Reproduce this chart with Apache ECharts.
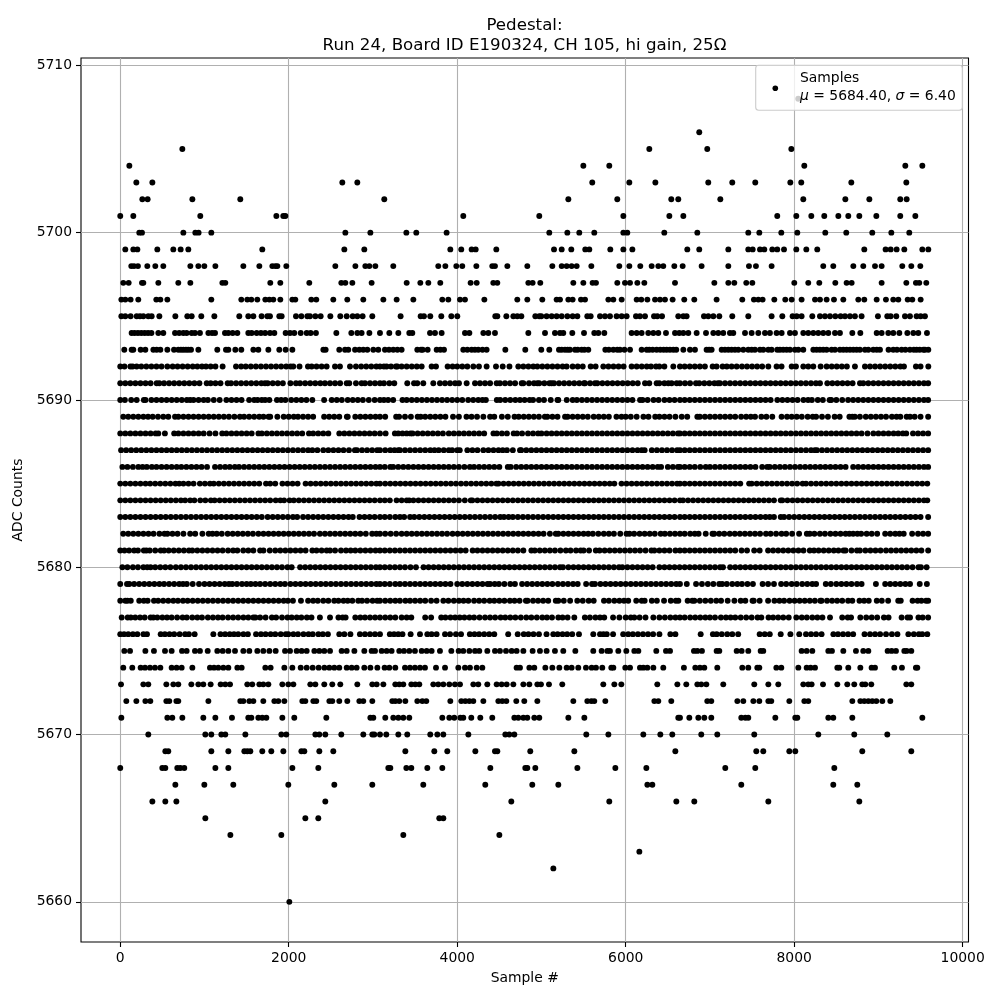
<!DOCTYPE html>
<html>
<head>
<meta charset="utf-8">
<script src="https://cdn.jsdelivr.net/npm/echarts@6/dist/echarts.min.js"></script>
<style>
  html, body { margin: 0; padding: 0; background: #fff; }
  #chart { width: 1000px; height: 1000px; }
</style>
</head>
<body>
<div id="chart"></div>
<script>
// sample numbers, one list per ADC level
const y5660 = [2007]
const y5662 = [5141]
const y5663 = [6162]
const y5664 = [1307,1912,3360,4500]
const y5665 = [1010,2197,2351,3787,3835]
const y5666 = [381,535,666,2434,4642,5805,6601,6814,7693,8773]
const y5667 = [654,998,1342,1995,2541,2992,3597,4333,4891,5200,6257,6316,7372,8464,8749]
const y5668 = [0,499,535,677,713,760,1129,1283,2043,2351,3182,3206,3396,3455,3645,3823,4393,4808,4832,4927,5426,5877,6245,7182,7538,8476]
const y5669 = [535,570,1081,1283,1473,1508,1544,1686,1793,1936,2150,2185,2363,2529,3384,3728,3882,4215,4448,4476,4867,5390,6589,7550,7633,7942,8013,8808,9390]
const y5670 = [333,1010,1081,1200,1247,1485,1912,1971,2316,2363,2434,2624,2885,2992,3016,3083,3158,3301,3407,3680,3764,3835,4132,4571,4618,4678,5532,5794,6209,6411,6553,6897,7087,7526,8286,8713,9105]
const y5671 = [13,559,618,737,986,1129,1326,1520,1556,1639,1686,1734,1924,2066,2446,2969,3004,3146,3241,3301,3360,3431,3823,3906,3965,4037,4072,4167,4274,4416,4678,4725,4785,4832,4915,4974,5319,5509,6624,6644,6755,6862,6933,7016,7372,7420,7455,7776,8013,8037,8405,8464,8690,9521]
const y5672 = [72,191,298,357,547,582,666,689,1046,1425,1461,1532,1580,1698,1829,1876,1948,2161,2197,2292,2327,2482,2517,2600,2695,2838,2885,2992,3229,3265,3312,3384,3526,3586,3633,3918,4048,4096,4144,4191,4310,4488,4535,4583,4701,4796,4951,5378,5544,5592,5627,5758,6340,6387,6541,6968,7016,7325,7396,7515,7586,7693,7728,7942,8120,8167,8690,8785,8832,8880,8927,8975,9046,9141]
const y5673 = [9,274,333,547,630,689,844,927,986,1073,1192,1247,1303,1508,1567,1651,1698,1758,1924,1995,2055,2256,2316,2422,2517,2612,2814,2992,3044,3123,3265,3312,3360,3455,3502,3550,3716,3775,3835,3906,3973,4033,4191,4250,4357,4468,4527,4587,4666,4785,4856,4951,4994,5089,5247,5734,5865,5948,6375,6613,6719,6850,6897,6957,7158,7526,7693,7811,8108,8167,8207,8342,8512,8630,8713,8808,8844,8915,9331,9390]
const y5674 = [36,143,242,294,353,412,476,610,669,729,856,1065,1113,1164,1224,1283,1390,1441,1722,1785,1948,2043,2142,2213,2284,2355,2423,2482,2541,2600,2688,2747,2806,2897,2969,3052,3138,3194,3265,3380,3439,3498,3558,3617,3748,3855,4013,4092,4151,4231,4298,4705,4745,4856,4915,5046,5129,5212,5299,5358,5437,5528,5596,5647,5722,5829,5853,5995,6051,6169,6209,6257,6328,6446,6691,6826,6881,6933,7087,7384,7455,7562,7586,7788,7847,8049,8148,8195,8247,8512,8535,8642,8785,8919,8959,9188,9279,9445,9461]
const y5675 = [48,116,298,400,531,610,733,788,887,946,1038,1152,1216,1283,1362,1461,1532,1627,1698,1770,1845,1956,2015,2094,2153,2213,2304,2363,2422,2490,2628,2688,2779,2897,2984,3024,3103,3162,3221,3312,3368,3431,3498,3578,3637,3696,3795,3930,4017,4072,4144,4211,4262,4357,4448,4507,4579,4646,4705,4785,4895,4982,5061,5160,5259,5402,5615,5714,5782,5813,5912,6007,6102,6150,6363,6478,6526,6810,6850,6905,7079,7111,7317,7376,7455,7602,7633,8088,8148,8215,8405,8448,8583,8733,8820,8880,9109,9157,9208,9307,9335,9390]
const y5676 = [0,45,95,150,203,275,317,480,530,585,640,705,770,815,883,1105,1190,1245,1300,1350,1400,1462,1515,1612,1670,1725,1785,1840,1905,1965,1995,2055,2110,2175,2235,2285,2352,2405,2465,2600,2660,2732,2845,2905,2965,3024,3083,3200,3250,3300,3350,3447,3558,3645,3696,3755,3855,3915,3985,4045,4150,4205,4260,4320,4380,4440,4605,4718,4790,4845,4905,4970,5060,5140,5192,5250,5305,5365,5445,5615,5695,5735,5775,5850,5970,6030,6085,6145,6205,6265,6325,6400,6530,6590,6890,7035,7080,7140,7205,7265,7335,7590,7650,7710,7840,7955,8060,8140,8200,8260,8325,8465,8520,8580,8640,8700,8835,8900,8960,9020,9090,9160,9225,9355,9420,9480,9520,9580]
const y5677 = [17,88,125,178,235,290,360,393,440,500,555,610,675,740,790,855,915,970,1040,1100,1160,1215,1280,1340,1400,1462,1520,1580,1605,1660,1725,1800,1850,1920,1985,2035,2095,2150,2215,2270,2370,2490,2590,2640,2675,2790,2850,2905,2965,3025,3083,3145,3205,3265,3340,3400,3455,3620,3690,3810,3860,3920,3975,4030,4085,4145,4200,4265,4330,4390,4450,4515,4570,4630,4690,4755,4820,4880,4945,5010,5065,5125,5200,5250,5310,5390,5515,5575,5640,5695,5745,5850,5925,6000,6060,6102,6165,6235,6328,6400,6465,6530,6590,6644,6700,6765,6825,6885,6945,7000,7060,7130,7190,7245,7300,7365,7430,7495,7565,7610,7695,7750,7810,7870,7935,8025,8090,8150,8215,8275,8335,8425,8570,8635,8675,8785,8855,8920,8985,9065,9120,9275,9345,9375,9475,9525,9590]
const y5678 = [0,60,85,125,225,280,325,400,450,510,570,630,685,745,800,860,920,980,1040,1100,1160,1220,1280,1340,1400,1460,1520,1580,1640,1700,1760,1820,1880,1940,1990,2050,2145,2230,2290,2345,2410,2470,2540,2590,2650,2700,2755,2825,2870,2930,2995,3050,3083,3145,3205,3265,3320,3385,3440,3500,3560,3620,3690,3755,3835,3895,3960,4020,4075,4132,4200,4260,4320,4385,4440,4500,4560,4625,4680,4740,4815,4835,4900,4960,5020,5080,5170,5200,5265,5340,5425,5490,5560,5620,5742,5800,5865,5925,5980,6030,6125,6190,6225,6310,6370,6455,6535,6595,6625,6735,6790,6815,6880,6945,7010,7075,7132,7210,7290,7365,7420,7505,7520,7590,7690,7765,7825,7880,7945,8005,8065,8125,8185,8245,8310,8325,8390,8450,8510,8570,8640,8690,8775,8830,8885,8980,9040,9115,9235,9265,9405,9465,9510,9565,9590]
const y5679 = [0,80,108,165,225,285,345,405,465,520,580,640,700,745,790,860,935,1000,1060,1120,1180,1240,1290,1330,1385,1445,1500,1550,1605,1660,1720,1780,1840,1900,1955,2020,2080,2140,2200,2260,2320,2380,2440,2500,2560,2620,2680,2740,2800,2860,2920,2980,3040,3083,3140,3200,3265,3320,3380,3440,3500,3560,3620,3680,3740,3800,3860,3920,4000,4060,4120,4180,4240,4300,4360,4390,4445,4495,4560,4630,4685,4770,4830,4890,4950,5010,5070,5130,5195,5255,5315,5375,5430,5530,5600,5635,5700,5760,5820,5880,5940,6000,6060,6120,6180,6240,6300,6360,6420,6480,6540,6600,6644,6725,6835,6905,6975,7040,7110,7145,7200,7265,7325,7380,7445,7510,7625,7690,7760,7845,7905,7970,8030,8095,8155,8215,8260,8375,8435,8500,8560,8620,8680,8745,8800,8970,9080,9140,9200,9260,9320,9375,9490,9575]
const y5680 = [25,85,150,210,275,320,360,415,475,535,595,660,720,780,840,900,960,1020,1080,1140,1200,1260,1320,1380,1440,1500,1560,1620,1680,1740,1800,1860,1920,1985,2035,2135,2195,2255,2315,2375,2435,2495,2555,2615,2675,2735,2795,2855,2915,2975,3035,3083,3140,3200,3260,3320,3380,3445,3510,3600,3660,3720,3780,3840,3900,3960,4020,4080,4140,4200,4260,4320,4380,4440,4500,4560,4620,4680,4740,4800,4860,4920,4980,5040,5100,5160,5220,5255,5320,5380,5440,5500,5560,5620,5680,5740,5800,5860,5920,5960,6020,6080,6140,6200,6260,6320,6400,6460,6520,6580,6640,6700,6760,6820,6880,6940,7000,7060,7120,7155,7240,7300,7360,7420,7480,7540,7600,7660,7720,7780,7840,7900,7960,8020,8080,8140,8200,8260,8320,8380,8440,8500,8560,8620,8680,8740,8800,8860,8920,8980,9040,9100,9160,9220,9280,9340,9405,9475,9505,9572]
const y5681 = [0,50,105,165,210,280,310,350,415,480,520,575,635,695,755,815,855,915,975,1035,1095,1155,1215,1280,1340,1390,1460,1520,1580,1660,1700,1775,1840,1900,1960,2020,2080,2140,2200,2280,2330,2390,2450,2490,2550,2620,2680,2735,2790,2850,2910,2970,3030,3083,3140,3200,3260,3320,3380,3440,3500,3560,3620,3680,3740,3800,3860,3920,3980,4040,4100,4183,4240,4300,4360,4420,4480,4540,4600,4660,4720,4785,4880,4920,4980,5040,5100,5160,5225,5290,5345,5410,5465,5500,5565,5645,5690,5750,5810,5870,5930,5990,6050,6110,6170,6235,6305,6340,6400,6460,6520,6590,6644,6700,6760,6820,6880,6940,7000,7060,7120,7180,7240,7300,7375,7440,7525,7590,7690,7750,7810,7870,7930,7990,8050,8110,8185,8235,8290,8350,8410,8470,8525,8585,8610,8680,8745,8780,8845,8905,8965,9025,9090,9150,9210,9270,9330,9390,9450,9510,9590]
const y5682 = [35,95,155,215,275,335,395,465,525,560,620,680,750,830,890,975,1050,1095,1145,1205,1275,1335,1395,1455,1515,1575,1640,1700,1760,1820,1880,1940,2000,2060,2120,2180,2240,2300,2370,2430,2490,2550,2610,2670,2730,2790,2850,2915,2990,3040,3083,3145,3210,3275,3340,3400,3460,3520,3580,3640,3700,3760,3820,3880,3945,4005,4065,4125,4185,4245,4305,4365,4425,4485,4545,4605,4665,4725,4785,4845,4905,4965,5025,5100,5170,5200,5260,5320,5380,5440,5500,5555,5610,5675,5740,5800,5860,5935,6010,6045,6100,6165,6225,6285,6345,6415,6465,6525,6585,6644,6700,6765,6820,6865,6950,7030,7050,7110,7170,7235,7295,7355,7415,7475,7535,7595,7665,7720,7785,7850,7905,7975,8058,8150,8185,8240,8305,8365,8430,8490,8550,8610,8655,8700,8750,8795,8860,8920,8985,9080,9140,9200,9250,9300,9400,9470,9530,9590]
const y5683 = [0,60,120,180,240,300,360,420,480,540,600,660,720,780,840,900,960,1020,1080,1140,1200,1260,1320,1380,1440,1500,1560,1620,1680,1750,1810,1870,1930,1990,2050,2100,2170,2230,2290,2350,2410,2470,2530,2590,2650,2710,2760,2840,2900,2960,3020,3083,3140,3200,3265,3320,3370,3440,3490,3550,3610,3670,3730,3790,3850,3910,3970,4030,4090,4150,4210,4270,4330,4390,4450,4510,4555,4610,4660,4720,4780,4840,4900,4960,5020,5080,5140,5200,5260,5320,5380,5440,5500,5560,5620,5680,5740,5800,5860,5920,5980,6040,6100,6160,6220,6280,6340,6400,6460,6520,6580,6644,6700,6760,6820,6880,6940,7000,7060,7120,7180,7240,7300,7360,7420,7480,7540,7600,7660,7710,7760,7840,7880,7940,8000,8060,8120,8180,8240,8300,8360,8420,8480,8540,8600,8660,8720,8780,8840,8900,8960,9020,9080,9140,9200,9260,9320,9380,9440,9500,9590]
const y5684 = [0,60,120,180,240,300,360,420,480,540,600,660,720,770,830,880,950,1010,1075,1120,1180,1240,1300,1360,1420,1480,1540,1600,1660,1720,1780,1845,1900,1945,2010,2060,2120,2180,2240,2300,2360,2420,2480,2540,2600,2660,2720,2780,2840,2900,2960,3020,3083,3140,3200,3280,3340,3400,3430,3480,3540,3600,3660,3720,3780,3840,3900,3960,4020,4090,4160,4180,4240,4300,4360,4420,4480,4540,4600,4660,4720,4780,4840,4900,4960,5020,5080,5140,5200,5260,5320,5380,5440,5500,5560,5620,5680,5740,5800,5860,5920,5980,6040,6100,6160,6220,6280,6340,6400,6460,6520,6580,6644,6680,6740,6800,6860,6920,6980,7040,7100,7160,7220,7280,7340,7400,7460,7520,7580,7640,7700,7760,7840,7860,7920,7980,8040,8100,8160,8220,8280,8340,8400,8460,8520,8580,8640,8700,8760,8820,8880,8940,9000,9060,9120,9180,9240,9300,9360,9420,9480,9540,9580]
const y5685 = [0,60,120,180,240,300,355,415,475,535,595,655,700,750,810,870,945,1005,1065,1110,1170,1230,1290,1350,1410,1470,1530,1590,1650,1730,1780,1840,1925,1985,2045,2105,2200,2260,2320,2380,2440,2500,2560,2620,2680,2740,2800,2860,2920,2980,3040,3083,3145,3205,3265,3325,3385,3445,3505,3565,3625,3685,3745,3805,3865,3925,3985,4045,4105,4165,4225,4285,4345,4405,4465,4490,4550,4610,4670,4730,4790,4850,4910,4970,5030,5090,5150,5210,5270,5330,5390,5450,5510,5570,5630,5690,5750,5810,5865,5950,6010,6070,6130,6190,6250,6310,6370,6430,6490,6550,6610,6644,6700,6760,6820,6880,6940,7000,7060,7120,7180,7240,7300,7360,7465,7495,7555,7615,7675,7735,7795,7855,7915,7975,8035,8100,8140,8200,8260,8320,8380,8440,8500,8560,8620,8680,8740,8800,8860,8920,8980,9040,9100,9160,9220,9280,9340,9400,9460,9520,9580]
const y5686 = [25,85,150,215,265,315,375,430,490,550,610,670,725,785,845,905,965,1030,1125,1185,1245,1300,1360,1410,1470,1530,1590,1650,1710,1770,1830,1890,1950,2010,2070,2130,2190,2250,2310,2370,2430,2490,2550,2610,2670,2730,2790,2850,2910,2970,3030,3083,3140,3205,3240,3300,3360,3420,3480,3540,3600,3660,3720,3780,3840,3900,3960,4020,4085,4150,4200,4260,4320,4380,4440,4500,4600,4635,4700,4760,4820,4880,4940,5000,5060,5120,5180,5240,5300,5360,5420,5480,5540,5600,5660,5720,5780,5840,5900,5960,6020,6080,6140,6200,6260,6320,6380,6420,6500,6560,6620,6644,6700,6760,6820,6885,6950,7000,7060,7120,7180,7240,7300,7360,7420,7480,7540,7620,7680,7710,7770,7830,7890,7950,8010,8070,8130,8190,8250,8310,8370,8430,8490,8550,8610,8700,8760,8820,8880,8940,9000,9060,9120,9180,9240,9300,9360,9420,9480,9540,9590]
const y5687 = [10,70,130,190,250,310,370,430,490,550,610,670,730,790,850,910,970,1030,1090,1150,1210,1270,1330,1390,1450,1510,1570,1630,1690,1750,1810,1870,1930,1990,2050,2110,2170,2230,2280,2340,2410,2470,2530,2590,2650,2715,2785,2810,2870,2930,2990,3050,3083,3145,3205,3255,3300,3320,3380,3440,3500,3560,3620,3680,3730,3780,3840,3900,3940,4000,4030,4120,4180,4240,4310,4370,4430,4490,4540,4590,4660,4745,4760,4820,4880,4940,5000,5060,5120,5180,5240,5300,5360,5420,5480,5540,5600,5660,5720,5780,5840,5900,5960,6020,6080,6140,6190,6225,6310,6370,6430,6490,6550,6610,6644,6700,6760,6820,6880,6940,7000,7060,7120,7180,7240,7300,7360,7420,7480,7540,7600,7660,7720,7780,7840,7900,7960,8020,8080,8140,8200,8245,8270,8330,8390,8450,8510,8570,8630,8690,8750,8810,8870,8930,8990,9050,9110,9170,9230,9290,9350,9410,9470,9530,9590]
const y5688 = [0,60,120,180,240,300,360,420,452,530,640,690,750,810,870,930,990,1060,1130,1210,1260,1320,1380,1440,1500,1560,1640,1680,1740,1800,1860,1920,1980,2040,2100,2160,2240,2290,2350,2410,2470,2600,2660,2720,2780,2840,2900,2960,3020,3083,3150,3260,3300,3350,3400,3445,3470,3530,3590,3650,3710,3770,3830,3900,3960,4020,4080,4140,4200,4260,4320,4430,4470,4530,4590,4670,4710,4770,4840,4900,4960,5000,5061,5120,5180,5240,5300,5360,5420,5480,5540,5600,5660,5720,5780,5840,5900,5960,6020,6080,6140,6200,6260,6320,6380,6440,6500,6560,6620,6644,6700,6760,6820,6880,6940,7000,7060,7120,7180,7240,7300,7360,7420,7480,7540,7600,7660,7720,7780,7840,7900,7960,8020,8080,8140,8200,8260,8320,8380,8440,8500,8560,8620,8680,8740,8800,8870,8940,9000,9060,9120,9180,9235,9290,9330,9410,9470,9530,9590]
const y5689 = [36,95,155,215,275,330,385,448,511,570,650,690,750,810,870,930,990,1050,1110,1170,1230,1290,1355,1420,1470,1530,1590,1650,1700,1760,1780,1865,1940,2000,2060,2110,2170,2230,2290,2420,2480,2540,2600,2690,2700,2790,2850,2910,2970,3030,3083,3145,3275,3310,3380,3450,3530,3566,3620,3680,3740,3800,3860,3950,4020,4110,4170,4235,4310,4390,4440,4530,4600,4680,4730,4790,4850,4910,4970,5040,5070,5130,5190,5280,5310,5370,5430,5490,5550,5620,5680,5740,5800,5890,5950,6000,6060,6130,6210,6270,6350,6400,6460,6520,6590,6665,6730,6850,6880,6940,7000,7060,7120,7180,7240,7300,7370,7430,7485,7535,7610,7670,7740,7850,7915,7970,8030,8090,8160,8220,8260,8330,8400,8480,8540,8655,8690,8720,8780,8850,8910,8970,9030,9090,9160,9215,9260,9335,9375,9430,9500,9590]
const y5690 = [0,55,130,195,280,300,370,430,490,550,610,670,730,790,830,870,930,990,1040,1110,1180,1260,1320,1380,1440,1530,1590,1630,1680,1720,1770,1860,1910,1960,2030,2090,2150,2210,2280,2420,2510,2570,2630,2700,2760,2820,2880,2950,3020,3083,3130,3180,3240,3350,3400,3460,3520,3580,3640,3700,3760,3820,3880,3940,4000,4060,4130,4190,4250,4300,4340,4470,4510,4570,4630,4690,4745,4800,4860,4900,4970,5030,5110,5190,5200,5300,5370,5420,5480,5540,5600,5660,5720,5780,5840,5900,5960,6020,6080,6170,6200,6260,6330,6390,6460,6520,6580,6644,6700,6760,6820,6880,6940,7000,7060,7120,7180,7240,7300,7360,7420,7480,7540,7600,7660,7720,7800,7860,7920,7980,8040,8110,8165,8210,8280,8340,8420,8440,8500,8570,8640,8700,8760,8820,8880,8940,9000,9060,9120,9180,9240,9300,9360,9420,9480,9540,9590]
const y5691 = [0,60,120,180,240,300,360,432,464,520,580,640,700,760,820,880,940,1026,1073,1130,1190,1275,1315,1375,1435,1495,1555,1615,1675,1718,1750,1810,1870,1930,2020,2086,2134,2195,2255,2315,2375,2430,2490,2550,2610,2688,2719,2798,2865,2905,2965,3024,3083,3130,3194,3253,3407,3487,3526,3597,3716,3795,3855,3915,3975,4021,4112,4211,4270,4330,4390,4468,4507,4567,4627,4687,4765,4785,4852,4911,4951,4974,5034,5094,5121,5149,5209,5269,5329,5389,5449,5505,5517,5577,5635,5663,5723,5783,5843,5903,5963,6023,6083,6143,6229,6280,6367,6399,6459,6506,6545,6605,6644,6704,6764,6834,6873,6933,6993,7053,7095,7119,7179,7239,7299,7359,7419,7479,7539,7599,7659,7719,7779,7839,7899,7959,8019,8079,8139,8199,8258,8306,8393,8453,8513,8573,8633,8693,8781,8820,8880,8940,9000,9060,9120,9180,9240,9300,9360,9420,9480,9540,9590]
const y5692 = [0,50,120,147,195,250,310,370,430,490,559,622,680,740,800,860,915,970,1018,1073,1130,1215,1374,1435,1490,1550,1610,1670,1730,1790,1850,1910,1970,2023,2054,2128,2228,2272,2330,2390,2450,2549,2608,2727,2798,2860,2920,2980,3040,3083,3130,3162,3214,3272,3289,3340,3400,3460,3520,3578,3696,3748,3886,3945,4000,4060,4120,4191,4258,4349,4460,4540,4620,4725,4785,4845,4903,4951,5010,5070,5130,5190,5251,5299,5370,5430,5490,5584,5643,5734,5795,5855,5915,5975,6070,6130,6190,6250,6300,6360,6399,6459,6565,6644,6700,6760,6820,6880,6940,7032,7079,7150,7200,7257,7317,7380,7440,7500,7560,7620,7693,7791,7850,7970,8021,8108,8167,8227,8314,8385,8445,8505,8565,8625,8721,8840,8900,8960,9020,9080,9140,9200,9260,9303,9445,9500,9592]
const y5693 = [48,135,155,242,298,393,432,476,559,638,689,720,749,780,808,840,927,1152,1255,1283,1366,1437,1580,1639,1758,1888,1963,2043,2411,2438,2600,2668,2707,2787,2838,2885,2933,3004,3063,3142,3190,3241,3290,3340,3526,3570,3590,3649,3756,3800,3843,4072,4120,4171,4210,4250,4300,4349,4571,4808,4998,5093,5208,5240,5279,5310,5338,5398,5430,5477,5510,5556,5758,5800,5853,5900,5932,5985,6051,6189,6249,6280,6320,6367,6410,6450,6486,6525,6565,6600,6684,6763,6822,6960,6990,7020,7139,7178,7218,7257,7297,7337,7396,7455,7495,7534,7594,7633,7693,7732,7799,7831,7870,7910,7950,8009,8049,8108,8227,8266,8305,8345,8385,8444,8484,8543,8583,8622,8662,8702,8741,8780,8840,8880,8939,8980,9018,9120,9176,9220,9275,9320,9374,9420,9453,9490,9533,9552,9592]
const y5694 = [135,170,210,250,290,330,370,452,511,650,700,749,788,848,887,946,1046,1090,1125,1243,1283,1334,1390,1520,1560,1619,1670,1720,1778,1829,1963,2015,2066,2142,2213,2260,2323,2565,2743,2814,2865,2957,3083,3194,3301,3431,3467,3677,3736,3815,4092,4144,4310,4369,4448,4844,5042,5160,5220,5259,5366,5505,5627,5675,5746,6070,6130,6189,6268,6328,6387,6478,6585,6636,6684,6743,6842,6953,7040,7099,7158,7237,7277,7416,7495,7574,7653,7712,7791,7851,7950,8009,8108,8167,8227,8286,8345,8405,8484,8543,8690,8785,8979,9038,9117,9176,9248,9343,9414,9473,9576]
const y5695 = [13,60,123,195,234,274,333,373,464,654,796,848,962,1117,1413,1520,1580,1678,1746,1777,1888,1916,2086,2150,2221,2252,2316,2379,2494,2612,2688,2759,2814,2877,2992,3328,3566,3605,3680,3811,3930,4001,4452,4476,4583,4666,4713,4761,4927,4974,4998,5061,5121,5180,5240,5307,5370,5426,5544,5584,5695,5754,5813,5892,5952,6011,6122,6169,6229,6336,6375,6431,6624,6684,6723,6929,6980,7040,7111,7265,7455,7732,7859,7981,8029,8088,8215,8306,8365,8425,8488,8551,8603,8662,8721,8800,8994,9105,9145,9212,9315,9374,9453,9501,9552]
const y5696 = [13,60,123,214,428,476,559,1081,1437,1508,1556,1627,1722,1770,1817,1900,2043,2078,2268,2327,2529,2695,2885,3123,3281,3479,3823,3894,4033,4092,4322,4713,4832,5010,5180,5220,5319,5370,5469,5517,5794,5853,5952,6130,6185,6257,6348,6407,6466,6557,6695,6814,7079,7384,7522,7574,7625,7764,7894,7970,8088,8247,8306,8385,8472,8583,8761,8832,8979,9089,9176,9236,9347,9402,9501]
const y5697 = [36,100,258,274,452,689,832,1212,1247,1781,1900,2244,2624,2672,2755,2984,3400,3562,3657,3799,4159,4231,4428,4476,4844,4895,4986,5378,5497,5607,5647,5900,5991,6051,6138,6221,6585,7052,7218,7289,7431,7503,8001,8167,8298,8488,8622,8682,9038,9331,9445,9485,9568]
const y5698 = [131,163,210,321,416,511,832,927,998,1129,1461,1651,1805,1841,1865,1971,2553,2791,2909,2957,3028,3241,3775,3859,3989,4060,4227,4416,4448,4595,4832,5129,5240,5299,5358,5418,5592,5924,6043,6173,6308,6387,6446,6577,6676,6901,7218,7463,7546,7732,8345,8464,8702,8820,8959,9038,9283,9390,9497]
const y5699 = [60,155,203,440,630,717,808,1686,2660,2897,3918,4048,4171,4219,4464,5149,5240,5354,5520,5568,5817,5972,6079,6731,6873,7218,7455,7507,7594,7645,7740,7799,7879,8025,8144,8274,8832,9085,9145,9216,9307,9521,9592]
const y5700 = [226,258,749,891,930,1081,2672,2969,3396,3514,3874,5093,5307,5449,5627,5972,6019,6458,6850,7455,7586,7847,8037,8369,8618,8927,9153,9366]
const y5701 = [0,155,950,1853,1935,1960,4072,4974,5972,6518,6684,7799,8025,8203,8357,8524,8642,8773,8975,9259,9438]
const y5702 = [262,325,856,1425,3134,5319,5900,6541,6624,7123,8108,8607,8892,9259,9335]
const y5703 = [191,381,2636,2814,5603,6043,6352,6980,7265,7538,7954,8084,8678,9331]
const y5704 = [108,5497,5805,8120,9319,9521]
const y5705 = [737,6280,6968,7966]
const y5706 = [6873]
const y5708 = [8048]

const rows = [
  [5660, y5660], [5662, y5662], [5663, y5663], [5664, y5664], [5665, y5665], [5666, y5666],
  [5667, y5667], [5668, y5668], [5669, y5669], [5670, y5670], [5671, y5671], [5672, y5672],
  [5673, y5673], [5674, y5674], [5675, y5675], [5676, y5676], [5677, y5677], [5678, y5678],
  [5679, y5679], [5680, y5680], [5681, y5681], [5682, y5682], [5683, y5683], [5684, y5684],
  [5685, y5685], [5686, y5686], [5687, y5687], [5688, y5688], [5689, y5689], [5690, y5690],
  [5691, y5691], [5692, y5692], [5693, y5693], [5694, y5694], [5695, y5695], [5696, y5696],
  [5697, y5697], [5698, y5698], [5699, y5699], [5700, y5700], [5701, y5701], [5702, y5702],
  [5703, y5703], [5704, y5704], [5705, y5705], [5706, y5706], [5708, y5708],
]
const points = rows.flatMap(([level, xs]) => xs.map(x => [x, level]))

const xTicks = [0, 2000, 4000, 6000, 8000, 10000]
const yTicks = [5660, 5670, 5680, 5690, 5700, 5710]

const font = '"DejaVu Sans"'
const chart = echarts.init(document.getElementById('chart'), null, { renderer: 'canvas' })

function axisBase(ticks) {
  return {
    type: 'value',
    axisLine: { show: false, onZero: false },
    axisTick: { show: true, customValues: ticks, length: 5, lineStyle: { color: '#000', width: 1.1 } },
    axisLabel: { customValues: ticks, color: '#000', fontFamily: font, fontSize: 13.9, margin: 9, formatter: v => String(v) },
    splitLine: { show: true, lineStyle: { color: '#b0b0b0', width: 1.1 } },
    nameLocation: 'middle',
    nameTextStyle: { color: '#000', fontFamily: font, fontSize: 13.9 },
  }
}

chart.setOption({
  animation: false,
  backgroundColor: '#fff',
  title: {
    text: 'Pedestal:\nRun 24, Board ID E190324, CH 105, hi gain, 25Ω',
    left: 519.5,
    top: 10.5,
    textAlign: 'center',
    textStyle: { color: '#000', fontFamily: font, fontSize: 16.67, fontWeight: 'normal', lineHeight: 20 },
  },
  grid: { show: true, borderColor: '#000', borderWidth: 1.1, left: 81, right: 31.5, top: 58, bottom: 58 },
  xAxis: { ...axisBase(xTicks), min: -466, max: 10069, name: 'Sample #', nameGap: 29 },
  yAxis: { ...axisBase(yTicks), min: 5657.6, max: 5710.44, name: 'ADC Counts', nameGap: 49 },
  series: [{
    type: 'scatter',
    name: 'Samples',
    data: points,
    symbol: 'circle',
    symbolSize: 5.9,
    itemStyle: { color: '#000', opacity: 1 },
    progressive: 0,
    silent: true,
  }],
  // the legend sits over the data with a see-through white box, on its own layer
  graphic: {
    zlevel: 5,
    elements: [
      { type: 'rect', zlevel: 5, z: 100, shape: { x: 755.7, y: 65.3, width: 206.6, height: 45, r: 3 }, style: { fill: 'rgba(255,255,255,0.8)', stroke: '#ccc', lineWidth: 1.1 } },
      { type: 'circle', zlevel: 5, z: 101, shape: { cx: 775.3, cy: 88.3, r: 2.8 }, style: { fill: '#000' } },
      { type: 'text', zlevel: 5, z: 101, x: 800, y: 71, style: { text: 'Samples', fill: '#000', font: '13.9px "DejaVu Sans"' } },
      { type: 'text', zlevel: 5, z: 101, x: 800, y: 89, style: {
        text: '{i|μ} = 5684.40, {i|σ} = 6.40',
        fill: '#000',
        font: '13.9px "DejaVu Sans"',
        rich: { i: { fontFamily: font, fontSize: 13.9, fontStyle: 'italic', fill: '#000' } },
      } },
    ],
  },
})
</script>
</body>
</html>
